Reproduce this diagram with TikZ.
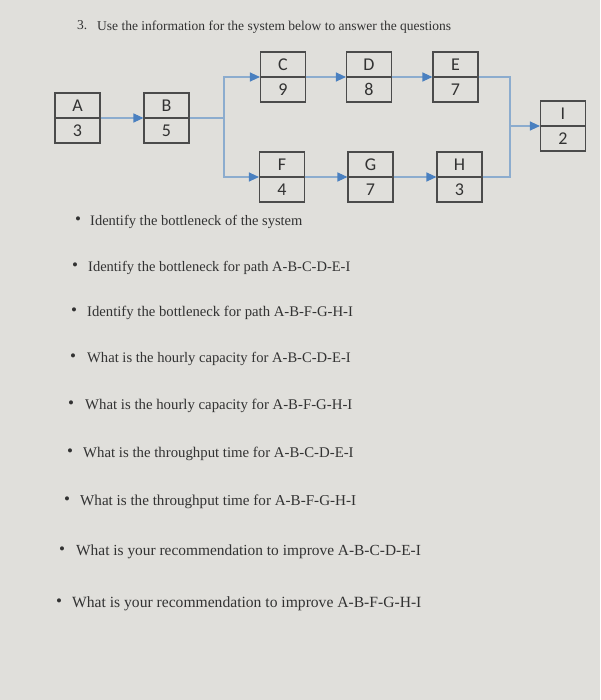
\documentclass[tikz,border=0pt]{standalone}
\usepackage{fontspec}
\setmainfont{Liberation Serif}
\newfontfamily\boxfont{Carlito}
\usetikzlibrary{arrows.meta}
\definecolor{paper}{RGB}{224,223,219}
\definecolor{ink}{RGB}{50,50,50}
\definecolor{frame}{RGB}{75,75,75}
\definecolor{flow}{RGB}{140,172,206}
\definecolor{head}{RGB}{74,128,192}
\tikzset{
  stagebox/.style={draw=frame, line width=1.1pt, minimum width=45pt, minimum height=50pt, inner sep=0pt},
  stagetxt/.style={font=\boxfont\fontsize{18}{20}\selectfont, text=ink, inner sep=0pt},
  flowline/.style={draw=flow, line width=1.1pt, -{Triangle[length=10pt,width=9pt,fill=head,color=head]}},
  flowplain/.style={draw=flow, line width=1.1pt},
  qtext/.style={text=ink, anchor=mid west, inner sep=0pt},
  bul/.style={font=\fontsize{17}{18}\selectfont, text=ink, anchor=center, inner sep=0pt}
}
\newcommand{\stage}[4]{%
  \node[stagebox] (#1) at (#2,#3) {};
  \draw[frame, line width=1.1pt] (#1.west) -- (#1.east);
  \node[stagetxt] (#1t) at ([yshift=12.5pt]#1.center) {#1};
  \node[stagetxt] (#1b) at ([yshift=-12.5pt]#1.center) {#4};
}
\newcommand{\fs}[1]{\fontsize{#1}{#1}\selectfont}
\begin{document}
\begin{tikzpicture}[x=1pt,y=-1pt]
\fill[paper] (0,0) rectangle (600,700);
\useasboundingbox (0,0) rectangle (600,700);

% title
\node[qtext, font=\fs{13.5}] (num) at (77,27) {3.};
\node[qtext, font=\fs{13.5}] (title) at (97,28) {Use the information for the system below to answer the questions};

% stages
\stage{A}{77.5}{118}{3}
\stage{B}{166.5}{118}{5}
\stage{C}{283}{77}{9}
\stage{D}{369}{77}{8}
\stage{E}{455.5}{77}{7}
\stage{F}{282}{177}{4}
\stage{G}{370.5}{177}{7}
\stage{H}{459.5}{177}{3}
\stage{I}{563}{126}{2}

\coordinate (split) at (224,118);
\coordinate (merge) at (510,126);

% connectors
\draw[flowline] (A.east) -- (B.west);
\draw[flowplain] (B.east) -- (split);
\draw[flowline] (split) |- (C.west);
\draw[flowline] (split) |- (F.west);
\draw[flowline] (C.east) -- (D.west);
\draw[flowline] (D.east) -- (E.west);
\draw[flowline] (F.east) -- (G.west);
\draw[flowline] (G.east) -- (H.west);
\draw[flowplain] (E.east) -| (merge);
\draw[flowplain] (H.east) -| (merge);
\draw[flowline] (merge) -- (I.west);

% questions
\node[bul] (b1) at (78,221) {\textbullet};
\node[qtext, font=\fs{14.5}] (q1) at (90,223) {Identify the bottleneck of the system};
\node[bul] (b2) at (75,267) {\textbullet};
\node[qtext, font=\fs{14.5}] (q2) at (88,269) {Identify the bottleneck for path A-B-C-D-E-I};
\node[bul] (b3) at (74,312) {\textbullet};
\node[qtext, font=\fs{14.7}] (q3) at (87,314) {Identify the bottleneck for path A-B-F-G-H-I};
\node[bul] (b4) at (73,358) {\textbullet};
\node[qtext, font=\fs{14.6}] (q4) at (87,360) {What is the hourly capacity for A-B-C-D-E-I};
\node[bul] (b5) at (71,405) {\textbullet};
\node[qtext, font=\fs{14.8}] (q5) at (85,407) {What is the hourly capacity for A-B-F-G-H-I};
\node[bul] (b6) at (70,453) {\textbullet};
\node[qtext, font=\fs{14.8}] (q6) at (83,455) {What is the throughput time for A-B-C-D-E-I};
\node[bul] (b7) at (67,501) {\textbullet};
\node[qtext, font=\fs{15.1}] (q7) at (80,503) {What is the throughput time for A-B-F-G-H-I};
\node[bul] (b8) at (62,551) {\textbullet};
\node[qtext, font=\fs{15.4}] (q8) at (76,553) {What is your recommendation to improve A-B-C-D-E-I};
\node[bul] (b9) at (59,603) {\textbullet};
\node[qtext, font=\fs{15.6}] (q9) at (72,605) {What is your recommendation to improve A-B-F-G-H-I};
\end{tikzpicture}
\end{document}
